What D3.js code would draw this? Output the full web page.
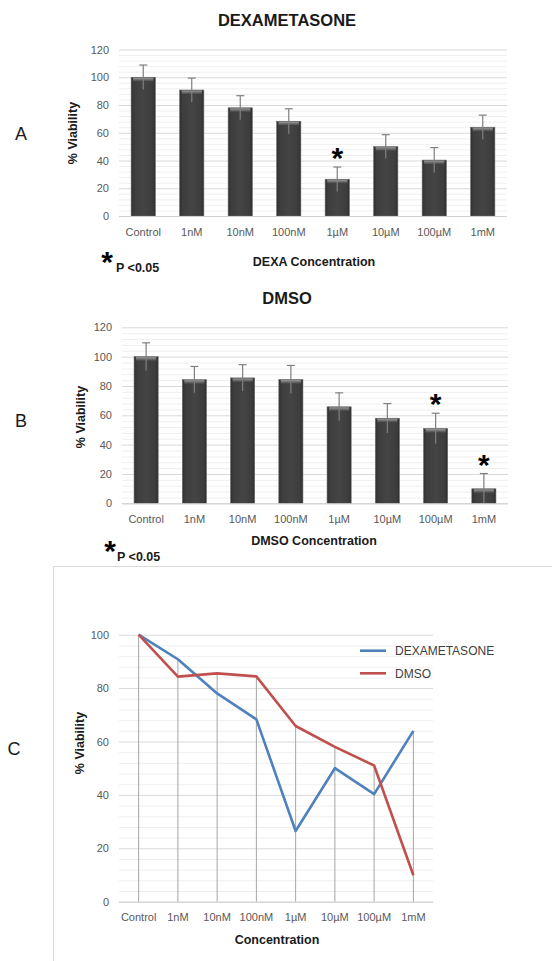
<!DOCTYPE html>
<html>
<head>
<meta charset="utf-8">
<script src="https://cdn.jsdelivr.net/npm/d3@7"></script>
<style>
  body { margin: 0; background: #fff; }
  text { font-family: "Liberation Sans", Arial, sans-serif; }
</style>
</head>
<body>
<div id="chart"></div>
<script>
const categories = ['Control', '1nM', '10nM', '100nM', '1µM', '10µM', '100µM', '1mM']
const dexaMean = [100, 90.8, 78, 68.3, 26.5, 50, 40.3, 64]
const dexaErr = [8.8, 8.6, 8.7, 9, 8.8, 8.6, 9, 8.7]
const dmsoMean = [100, 84.3, 85.5, 84.4, 65.8, 58, 51, 9.9]
const dmsoErr = [9.4, 9, 9, 9.6, 9.5, 10, 10.4, 10.4]
const dexaSig = ['1µM']
const dmsoSig = ['100µM', '1mM']
const barTicks = [0, 20, 40, 60, 80, 100, 120]
const lineTicks = [0, 20, 40, 60, 80, 100]

const W = 552, H = 961
const svg = d3.select('#chart').append('svg')
    .attr('width', W)
    .attr('height', H)
    .style('background', '#fff')

// bar look: dark grey with a little shine and a bevel on top
const defs = svg.append('defs')
const body = defs.append('linearGradient').attr('id', 'barBody')
body.append('stop').attr('offset', '0%').attr('stop-color', '#2e2e2e')
body.append('stop').attr('offset', '12%').attr('stop-color', '#3d3d3d')
body.append('stop').attr('offset', '50%').attr('stop-color', '#444')
body.append('stop').attr('offset', '88%').attr('stop-color', '#3d3d3d')
body.append('stop').attr('offset', '100%').attr('stop-color', '#2e2e2e')
const bevel = defs.append('linearGradient').attr('id', 'barTop')
    .attr('x1', 0).attr('x2', 0).attr('y1', 0).attr('y2', 1)
bevel.append('stop').attr('offset', '0%').attr('stop-color', '#9a9a9a')
bevel.append('stop').attr('offset', '100%').attr('stop-color', '#3d3d3d')

function grid(g, x, y, max, step) {
    const [x0, x1] = x.range()
    const minor = d3.range(0, max + 0.01, step)
    g.selectAll('line.minor').data(minor).enter().append('line')
        .attr('x1', x0).attr('x2', x1)
        .attr('y1', d => y(d) + 0.5).attr('y2', d => y(d) + 0.5)
        .attr('stroke', d => d % 20 === 0 ? '#d9d9d9' : '#efefef')
        .attr('stroke-width', 1)
}

function yTicks(g, x, y, ticks) {
    g.selectAll('text.yt').data(ticks).enter().append('text')
        .attr('x', x.range()[0] - 10)
        .attr('y', d => y(d) + 4)
        .attr('text-anchor', 'end')
        .attr('font-size', 11)
        .attr('fill', '#595959')
        .text(d => d)
}

function xTicks(g, x, yBase) {
    g.selectAll('text.xt').data(categories).enter().append('text')
        .attr('x', d => x(d) + x.bandwidth() / 2)
        .attr('y', yBase)
        .attr('text-anchor', 'middle')
        .attr('font-size', 11)
        .attr('fill', '#595959')
        .text(d => d)
}

function label(txt, x, y, size, weight, anchor, rotate) {
    const t = svg.append('text')
        .attr('font-size', size)
        .attr('font-weight', weight)
        .attr('text-anchor', anchor || 'middle')
        .attr('fill', '#1a1a1a')
        .text(txt)
    if (rotate) t.attr('transform', `translate(${x},${y}) rotate(-90)`)
    else t.attr('x', x).attr('y', y)
    return t
}

function star(x, cy, size) {
    svg.append('text')
        .attr('x', x).attr('y', cy + size * 0.57)
        .attr('text-anchor', 'middle')
        .attr('font-size', size)
        .attr('font-weight', 'bold')
        .attr('fill', '#000')
        .text('*')
}

function barPanel(p) {
    const x = d3.scaleBand().domain(categories).range(p.xr).paddingInner(0.5).paddingOuter(0.25)
    const y = d3.scaleLinear().domain([0, 120]).range(p.yr)
    const g = svg.append('g')
    grid(g, x, y, 120, 4)
    yTicks(g, x, y, barTicks)

    const bars = g.selectAll('g.bar').data(categories).enter().append('g')
    bars.append('rect')
        .attr('x', d => x(d))
        .attr('y', (d, i) => y(p.mean[i]))
        .attr('width', x.bandwidth())
        .attr('height', (d, i) => y(0) - y(p.mean[i]))
        .attr('fill', 'url(#barBody)')
        .attr('stroke', '#6a6a6a')
        .attr('stroke-width', 0.6)
    bars.append('rect')
        .attr('x', d => x(d) + 2)
        .attr('y', (d, i) => y(p.mean[i]) + 0.5)
        .attr('width', x.bandwidth() - 4)
        .attr('height', 4)
        .attr('fill', 'url(#barTop)')

    // error bars
    const cx = d => x(d) + x.bandwidth() / 2
    bars.append('line')
        .attr('x1', cx).attr('x2', cx)
        .attr('y1', (d, i) => y(p.mean[i] + p.err[i]))
        .attr('y2', (d, i) => y(p.mean[i] - p.err[i]))
        .attr('stroke', '#7f7f7f').attr('stroke-width', 1.2)
    bars.append('line')
        .attr('x1', d => cx(d) - 4).attr('x2', d => cx(d) + 4)
        .attr('y1', (d, i) => y(p.mean[i] + p.err[i]))
        .attr('y2', (d, i) => y(p.mean[i] + p.err[i]))
        .attr('stroke', '#7f7f7f').attr('stroke-width', 1.2)

    g.append('line')
        .attr('x1', p.xr[0]).attr('x2', p.xr[1])
        .attr('y1', y(0) + 0.5).attr('y2', y(0) + 0.5)
        .attr('stroke', '#d0d0d0')

    xTicks(g, x, p.xTickY)

    p.sig.forEach(c => {
        const i = categories.indexOf(c)
        star(cx(c), y(p.mean[i] + p.err[i]) - 16, 30)
    })

    label(p.title, 287, p.titleY, 16.5, 'bold')
    label('% Viability', p.yLabX, p.yLabY, 12.5, 'bold', 'middle', true)
    label(p.xTitle, 314, p.xTitleY, 12.5, 'bold')
    label(p.letter, 21, p.letterY, 18, 'normal')
    star(p.starX, p.starY, 30)
    label('P <0.05', p.pX, p.pY, 12.5, 'bold', 'start')
}

barPanel({
    mean: dexaMean, err: dexaErr, sig: dexaSig,
    xr: [119, 507], yr: [216, 49.5], xTickY: 235.5,
    title: 'DEXAMETASONE', titleY: 26,
    yLabX: 77, yLabY: 133,
    xTitle: 'DEXA Concentration', xTitleY: 266,
    letter: 'A', letterY: 140,
    starX: 107, starY: 255, pX: 116, pY: 272
})

barPanel({
    mean: dmsoMean, err: dmsoErr, sig: dmsoSig,
    xr: [122, 508], yr: [503.3, 327.3], xTickY: 522.5,
    title: 'DMSO', titleY: 304,
    yLabX: 85, yLabY: 417,
    xTitle: 'DMSO Concentration', xTitleY: 545,
    letter: 'B', letterY: 427,
    starX: 110, starY: 544, pX: 117, pY: 561
})

// panel C: line chart in a light frame
svg.append('rect')
    .attr('x', 53.5).attr('y', 566.5)
    .attr('width', 520).attr('height', 420)
    .attr('fill', 'none')
    .attr('stroke', '#d9d9d9')

const xc = d3.scaleBand().domain(categories).range([119, 433])
const yc = d3.scaleLinear().domain([0, 100]).range([901.7, 634.7])
const gc = svg.append('g')
grid(gc, xc, yc, 100, 4)
yTicks(gc, xc, yc, lineTicks)
const px = d => xc(d) + xc.bandwidth() / 2

// drop lines
gc.selectAll('line.drop').data(categories).enter().append('line')
    .attr('x1', px).attr('x2', px)
    .attr('y1', yc(0))
    .attr('y2', (d, i) => yc(Math.max(dexaMean[i], dmsoMean[i])))
    .attr('stroke', '#a6a6a6').attr('stroke-width', 1)

gc.append('line')
    .attr('x1', 119).attr('x2', 433)
    .attr('y1', yc(0) + 0.5).attr('y2', yc(0) + 0.5)
    .attr('stroke', '#d0d0d0')

const line = d3.line().x((d, i) => px(categories[i])).y(d => yc(d))
const series = [
    { name: 'DEXAMETASONE', values: dexaMean, color: '#4f81bd' },
    { name: 'DMSO', values: dmsoMean, color: '#c0504d' }
]
series.forEach(s => {
    gc.append('path')
        .attr('d', line(s.values))
        .attr('fill', 'none')
        .attr('stroke', s.color)
        .attr('stroke-width', 2.6)
        .attr('stroke-linejoin', 'round')
})

xTicks(gc, xc, 921)

// legend
series.forEach((s, i) => {
    const ly = 650.7 + i * 22.6
    gc.append('line')
        .attr('x1', 360).attr('x2', 386)
        .attr('y1', ly).attr('y2', ly)
        .attr('stroke', s.color).attr('stroke-width', 2.6)
    gc.append('text')
        .attr('x', 395).attr('y', ly + 4.5)
        .attr('font-size', 12)
        .attr('fill', '#404040')
        .text(s.name)
})

label('% Viability', 84, 743, 12.5, 'bold', 'middle', true)
label('Concentration', 277, 944, 12.5, 'bold')
label('C', 14, 755, 18, 'normal')
</script>
</body>
</html>
